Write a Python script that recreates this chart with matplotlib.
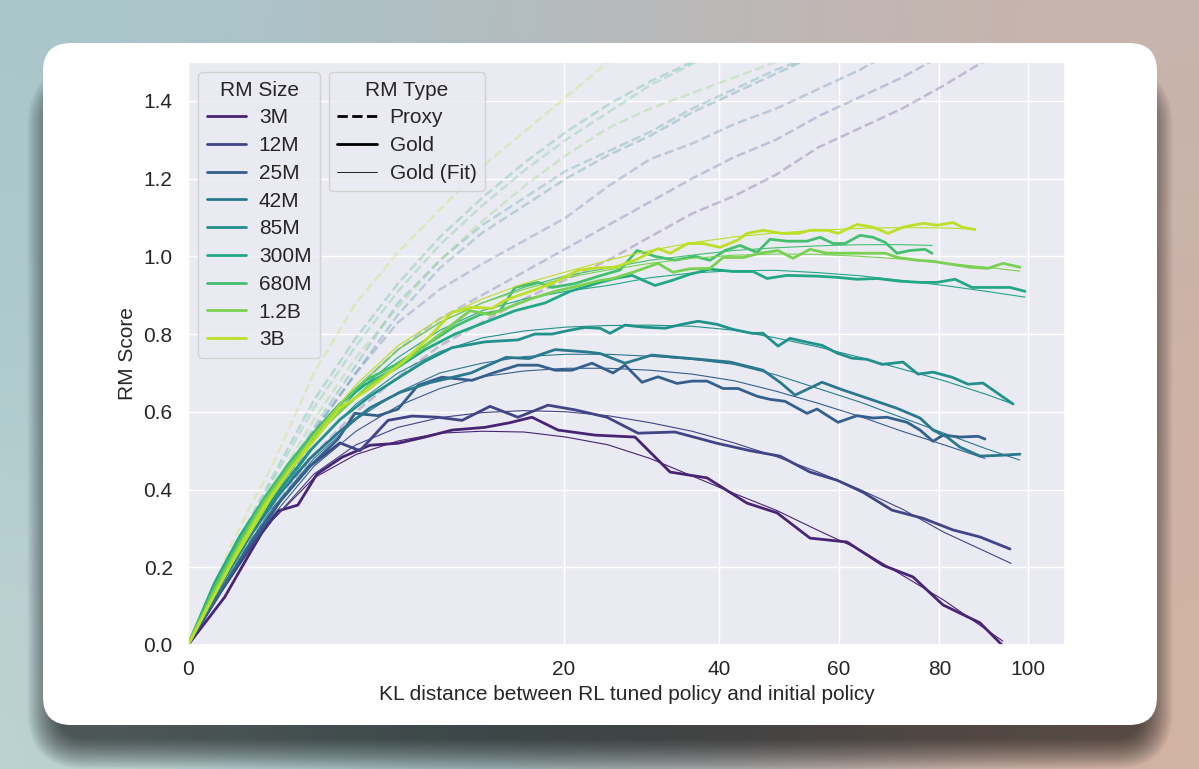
import numpy as np
import matplotlib
matplotlib.use("Agg")
import matplotlib.pyplot as plt
import seaborn as sns
from matplotlib.lines import Line2D
from matplotlib.patches import FancyBboxPatch
from matplotlib.transforms import IdentityTransform

rm_sizes = ["3M", "12M", "25M", "42M", "85M", "300M", "680M", "1.2B", "3B"]

# common KL grid used by the smooth curves (proxy and fitted gold)
kl_grid = [0, 0.0625, 0.25, 0.5625, 1, 2.25, 4, 6.25, 9, 12.25, 16, 20.25, 25,
           30.25, 36, 42.25, 49, 56.25, 64, 72.25, 81, 90.25, 100]

# proxy RM score (runs off the top of the plot)
proxy = [
    [0, 0.09, 0.19, 0.27, 0.35, 0.49, 0.60, 0.69, 0.77, 0.83, 0.89, 0.94, 0.99, 1.05, 1.11, 1.155, 1.21, 1.28, 1.33, 1.38, 1.44, 1.505, 1.56],
    [0, 0.10, 0.20, 0.28, 0.37, 0.53, 0.66, 0.76, 0.84, 0.90, 0.96, 1.02, 1.08, 1.14, 1.20, 1.255, 1.30, 1.36, 1.41, 1.46, 1.52],
    [0, 0.10, 0.20, 0.29, 0.38, 0.55, 0.70, 0.83, 0.915, 0.98, 1.04, 1.10, 1.18, 1.25, 1.29, 1.34, 1.38, 1.43, 1.48, 1.54],
    [0, 0.10, 0.20, 0.29, 0.38, 0.55, 0.70, 0.85, 0.97, 1.06, 1.13, 1.20, 1.26, 1.31, 1.37, 1.42, 1.47, 1.52],
    [0, 0.10, 0.21, 0.30, 0.39, 0.56, 0.72, 0.88, 0.99, 1.08, 1.15, 1.22, 1.27, 1.32, 1.38, 1.43, 1.48, 1.52],
    [0, 0.11, 0.23, 0.33, 0.43, 0.63, 0.79, 0.93, 1.05, 1.15, 1.24, 1.32, 1.39, 1.45, 1.50, 1.55],
    [0, 0.11, 0.22, 0.32, 0.42, 0.61, 0.77, 0.91, 1.03, 1.13, 1.22, 1.30, 1.37, 1.44, 1.495, 1.55],
    [0, 0.11, 0.22, 0.31, 0.40, 0.58, 0.74, 0.87, 0.99, 1.09, 1.18, 1.26, 1.33, 1.38, 1.42, 1.46, 1.50, 1.54],
    [0, 0.12, 0.25, 0.36, 0.46, 0.70, 0.88, 1.01, 1.12, 1.23, 1.32, 1.41, 1.50, 1.58],
]

# fitted gold score on kl_grid, last value sits at fit_end_kl
fit = [
    [0, 0.09, 0.17, 0.25, 0.32, 0.43, 0.49, 0.525, 0.545, 0.55, 0.548, 0.535, 0.515, 0.48, 0.435, 0.39, 0.347, 0.295, 0.245, 0.18, 0.115, 0.04, 0.01],
    [0, 0.09, 0.17, 0.25, 0.32, 0.44, 0.515, 0.56, 0.585, 0.598, 0.603, 0.60, 0.59, 0.572, 0.55, 0.52, 0.485, 0.445, 0.40, 0.35, 0.29, 0.24, 0.21],
    [0, 0.09, 0.18, 0.26, 0.33, 0.46, 0.55, 0.615, 0.66, 0.69, 0.705, 0.712, 0.712, 0.707, 0.697, 0.68, 0.653, 0.622, 0.588, 0.55, 0.515, 0.48],
    [0, 0.09, 0.18, 0.27, 0.35, 0.48, 0.58, 0.65, 0.70, 0.725, 0.742, 0.748, 0.748, 0.743, 0.735, 0.722, 0.695, 0.66, 0.625, 0.585, 0.545, 0.505, 0.476],
    [0, 0.10, 0.19, 0.28, 0.36, 0.51, 0.62, 0.70, 0.755, 0.79, 0.808, 0.818, 0.822, 0.823, 0.82, 0.81, 0.79, 0.767, 0.74, 0.71, 0.68, 0.645, 0.62],
    [0, 0.10, 0.20, 0.29, 0.38, 0.53, 0.65, 0.74, 0.81, 0.86, 0.89, 0.91, 0.925, 0.945, 0.957, 0.963, 0.964, 0.958, 0.95, 0.938, 0.925, 0.91, 0.895],
    [0, 0.10, 0.20, 0.29, 0.38, 0.54, 0.66, 0.76, 0.83, 0.88, 0.92, 0.95, 0.97, 0.99, 1.003, 1.015, 1.022, 1.027, 1.03, 1.03, 1.028],
    [0, 0.10, 0.20, 0.29, 0.38, 0.54, 0.66, 0.76, 0.83, 0.88, 0.915, 0.945, 0.965, 0.982, 0.995, 1.003, 1.006, 1.005, 1.0, 0.993, 0.983, 0.972, 0.962],
    [0, 0.10, 0.20, 0.29, 0.38, 0.54, 0.67, 0.77, 0.84, 0.89, 0.93, 0.96, 0.99, 1.015, 1.035, 1.05, 1.06, 1.067, 1.072, 1.074, 1.073, 1.07],
]
fit_end_kl = [94.1, 96.0, 90.0, 98.0, 96.5, 99.3, 78.5, 98.0, 87.8]

# gold RM score measured along training
gold_kl = [
    [0, 0.19, 0.48, 0.78, 1.15, 1.71, 2.36, 3.36, 4.69, 6.25, 7.96, 9.88, 12.50, 14.69, 16.77, 19.40, 23.48, 28.32, 32.93, 38.18, 44.29, 49.17, 54.83, 61.55, 68.46, 74.50, 80.79, 88.90, 93.90],
    [0, 0.16, 0.54, 1.20, 2.11, 3.27, 4.19, 5.67, 7.11, 8.86, 10.64, 12.93, 15.43, 18.37, 21.23, 24.88, 28.70, 33.61, 39.66, 44.76, 49.67, 54.83, 59.70, 64.57, 70.24, 76.56, 82.94, 88.90, 95.76],
    [0, 0.15, 0.54, 1.20, 2.11, 3.19, 3.95, 5.12, 6.25, 7.50, 9.14, 11.43, 13.10, 15.43, 17.36, 19.09, 20.90, 23.13, 25.60, 27.06, 29.21, 31.31, 33.89, 36.00, 38.18, 40.57, 42.87, 45.89, 48.01, 50.51, 54.30, 56.07, 59.88, 63.43, 66.50, 69.24, 73.27, 75.94, 78.66, 80.79, 84.46, 88.45, 90.02],
    [0, 0.16, 0.54, 1.20, 2.11, 3.27, 4.69, 6.37, 8.30, 11.35, 14.33, 16.48, 19.09, 22.56, 24.06, 27.06, 30.51, 33.89, 37.15, 41.63, 46.86, 49.67, 52.22, 56.97, 60.81, 66.50, 71.24, 75.94, 78.66, 81.65, 84.46, 88.90, 93.44, 98.10],
    [0, 0.16, 0.54, 1.20, 2.11, 3.27, 4.69, 6.37, 7.96, 9.88, 12.50, 15.43, 17.06, 18.78, 20.68, 22.34, 24.06, 25.24, 27.06, 29.34, 32.25, 34.59, 36.86, 39.66, 42.10, 45.08, 46.86, 49.34, 51.36, 54.30, 56.97, 59.70, 62.49, 65.34, 68.26, 72.45, 75.52, 78.66, 82.72, 86.23, 89.57, 96.46],
    [0, 0.10, 0.38, 0.84, 1.47, 2.29, 3.27, 4.44, 6.07, 7.96, 10.10, 12.50, 15.15, 18.06, 20.68, 24.06, 25.84, 27.94, 30.91, 33.20, 35.71, 38.62, 42.10, 45.24, 47.51, 50.85, 56.07, 59.70, 63.43, 67.28, 71.84, 75.94, 79.51, 83.37, 87.11, 91.16, 95.76, 99.28],
    [0, 0.10, 0.38, 0.84, 1.47, 2.29, 3.27, 4.44, 6.07, 7.96, 10.10, 12.08, 13.80, 15.15, 17.36, 18.78, 21.23, 24.06, 26.45, 28.57, 30.91, 33.61, 36.43, 38.62, 40.87, 43.18, 45.89, 48.01, 50.85, 54.30, 56.61, 58.96, 61.17, 64.00, 66.50, 68.86, 71.24, 73.88, 76.98, 78.45],
    [0, 0.10, 0.38, 0.84, 1.47, 2.29, 3.27, 4.69, 6.37, 8.30, 10.10, 11.27, 12.93, 14.69, 16.58, 19.09, 21.78, 24.06, 25.60, 28.07, 31.31, 33.33, 35.71, 38.62, 40.57, 43.65, 46.37, 49.34, 51.87, 54.83, 57.87, 61.55, 65.34, 68.86, 71.44, 75.32, 78.66, 82.94, 86.67, 90.70, 94.13, 98.10],
    [0, 0.10, 0.38, 0.84, 1.47, 2.29, 3.27, 4.69, 6.67, 8.44, 9.88, 11.43, 13.10, 14.24, 16.10, 18.78, 21.56, 23.48, 25.84, 28.32, 31.31, 32.93, 35.43, 37.59, 40.11, 42.72, 44.29, 46.86, 50.00, 52.74, 54.83, 57.87, 59.88, 63.43, 66.50, 69.44, 72.45, 76.56, 79.51, 82.94, 84.90, 87.78],
]
gold_score = [
    [0, 0.123, 0.22, 0.29, 0.345, 0.36, 0.44, 0.483, 0.514, 0.519, 0.535, 0.553, 0.56, 0.572, 0.586, 0.553, 0.54, 0.535, 0.445, 0.43, 0.365, 0.34, 0.275, 0.265, 0.205, 0.175, 0.103, 0.057, 0.0],
    [0, 0.14, 0.25, 0.37, 0.46, 0.52, 0.50, 0.578, 0.589, 0.586, 0.578, 0.614, 0.586, 0.617, 0.605, 0.586, 0.545, 0.548, 0.519, 0.50, 0.486, 0.445, 0.424, 0.393, 0.347, 0.326, 0.296, 0.278, 0.247],
    [0, 0.14, 0.26, 0.37, 0.46, 0.53, 0.596, 0.59, 0.607, 0.668, 0.689, 0.681, 0.699, 0.72, 0.72, 0.707, 0.707, 0.725, 0.70, 0.72, 0.676, 0.69, 0.673, 0.679, 0.679, 0.66, 0.66, 0.64, 0.632, 0.627, 0.596, 0.607, 0.573, 0.59, 0.584, 0.586, 0.573, 0.553, 0.524, 0.54, 0.535, 0.537, 0.53],
    [0, 0.16, 0.28, 0.39, 0.48, 0.55, 0.61, 0.65, 0.675, 0.70, 0.74, 0.737, 0.76, 0.754, 0.75, 0.725, 0.746, 0.74, 0.735, 0.728, 0.707, 0.676, 0.643, 0.676, 0.656, 0.63, 0.609, 0.584, 0.553, 0.535, 0.509, 0.486, 0.488, 0.491],
    [0, 0.17, 0.29, 0.40, 0.50, 0.58, 0.64, 0.69, 0.73, 0.765, 0.78, 0.785, 0.80, 0.80, 0.81, 0.817, 0.815, 0.802, 0.823, 0.818, 0.815, 0.825, 0.833, 0.825, 0.812, 0.802, 0.802, 0.769, 0.789, 0.779, 0.771, 0.751, 0.738, 0.735, 0.722, 0.728, 0.697, 0.702, 0.689, 0.671, 0.674, 0.62],
    [0, 0.16, 0.28, 0.38, 0.47, 0.55, 0.62, 0.67, 0.71, 0.76, 0.80, 0.83, 0.86, 0.88, 0.91, 0.933, 0.943, 0.951, 0.925, 0.938, 0.954, 0.967, 0.961, 0.961, 0.943, 0.951, 0.949, 0.946, 0.941, 0.943, 0.936, 0.933, 0.933, 0.941, 0.92, 0.92, 0.92, 0.91],
    [0, 0.15, 0.27, 0.38, 0.47, 0.55, 0.62, 0.68, 0.72, 0.77, 0.82, 0.85, 0.86, 0.92, 0.933, 0.92, 0.93, 0.95, 0.965, 1.015, 1.0, 0.99, 1.0, 0.99, 1.015, 1.028, 1.01, 1.044, 1.039, 1.039, 1.049, 1.033, 1.033, 1.054, 1.049, 1.036, 1.008, 1.015, 1.018, 1.008],
    [0, 0.14, 0.26, 0.37, 0.46, 0.54, 0.60, 0.67, 0.72, 0.78, 0.83, 0.86, 0.85, 0.87, 0.89, 0.91, 0.925, 0.938, 0.943, 0.959, 0.982, 0.959, 0.968, 0.969, 0.997, 0.997, 1.008, 1.015, 0.995, 1.018, 1.008, 1.008, 1.008, 1.008, 0.997, 0.99, 0.987, 0.979, 0.972, 0.969, 0.982, 0.972],
    [0, 0.13, 0.25, 0.36, 0.45, 0.53, 0.61, 0.66, 0.733, 0.80, 0.856, 0.869, 0.866, 0.887, 0.905, 0.93, 0.964, 0.97, 0.972, 0.99, 1.02, 1.008, 1.033, 1.033, 1.023, 1.041, 1.059, 1.067, 1.059, 1.059, 1.067, 1.067, 1.059, 1.082, 1.075, 1.059, 1.075, 1.085, 1.08, 1.087, 1.075, 1.069],
]

x_ticks = [0, 20, 40, 60, 80, 100]
y_ticks = [0.0, 0.2, 0.4, 0.6, 0.8, 1.0, 1.2, 1.4]

sns.set_theme(style="darkgrid")
plt.rcParams["font.family"] = ["Liberation Sans", "DejaVu Sans"]
FS = 15

W, H = 1199, 769
fig = plt.figure(figsize=(W / 100, H / 100), dpi=100)

# gradient backdrop
bg = fig.add_axes([0, 0, 1, 1], zorder=-3)
grad = np.array([
    [[170, 199, 204], [176, 190, 194], [190, 184, 184], [200, 180, 172]],
    [[176, 204, 206], [160, 180, 184], [178, 172, 172], [208, 178, 164]],
    [[190, 212, 212], [140, 168, 172], [160, 158, 160], [212, 180, 164]],
]) / 255.0
bg.imshow(grad, aspect="auto", extent=[0, 1, 0, 1], interpolation="bicubic")
bg.axis("off")

# white card with soft shadow mostly below it, in pixel coordinates
cx, cy, cw, ch, r = 43, 44, 1114, 682, 28
for k in range(22):
    pad = k * 1.4
    sh = FancyBboxPatch((cx + 14 - pad, cy - 14 - pad), cw - 28 + 2 * pad, ch - 40 + 2 * pad,
                        boxstyle=f"round,pad=0,rounding_size={r + pad}",
                        transform=IdentityTransform(), facecolor="black",
                        edgecolor="none", alpha=0.035, zorder=-2)
    fig.add_artist(sh)
card = FancyBboxPatch((cx, cy), cw, ch, boxstyle=f"round,pad=0,rounding_size={r}",
                      transform=IdentityTransform(), facecolor="white",
                      edgecolor="none", zorder=-1)
fig.add_artist(card)

ax = fig.add_axes([188 / W, 1 - 645 / H, 877 / W, 583 / H])
ax.set_xscale("function", functions=(lambda v: np.sqrt(np.clip(v, 0, None)), lambda v: np.square(v)))

colors = sns.color_palette("viridis", len(rm_sizes))
for i, size in enumerate(rm_sizes):
    ax.plot(kl_grid[:len(proxy[i])], proxy[i], ls="--", color=colors[i], lw=1.8, alpha=0.25)
for i, size in enumerate(rm_sizes):
    c = colors[i]
    ax.plot(gold_kl[i], gold_score[i], color=c, lw=2.0)
    fx = kl_grid[:len(fit[i]) - 1] + [fit_end_kl[i]]
    ax.plot(fx, fit[i], color=c, lw=0.8)

ax.set_xlim(0, 109)
ax.set_ylim(0, 1.5)
ax.set_xticks(x_ticks)
ax.set_yticks(y_ticks)
ax.set_yticklabels([f"{v:.1f}" for v in y_ticks])
ax.tick_params(labelsize=FS, pad=5)
ax.set_xlabel("KL distance between RL tuned policy and initial policy", fontsize=FS, labelpad=4)
ax.set_ylabel("RM Score", fontsize=FS, labelpad=5)

size_handles = [Line2D([], [], color=colors[i], lw=2) for i in range(len(rm_sizes))]
leg1 = ax.legend(size_handles, rm_sizes, title="RM Size", loc="upper left",
                 fontsize=FS, title_fontsize=FS, handlelength=1.9, handletextpad=0.6,
                 labelspacing=0.42, borderaxespad=0.5)
ax.add_artist(leg1)
type_handles = [Line2D([], [], color="black", ls="--", lw=2),
                Line2D([], [], color="black", lw=2),
                Line2D([], [], color="black", lw=0.6)]
ax.legend(type_handles, ["Proxy", "Gold", "Gold (Fit)"], title="RM Type",
          loc="upper left", bbox_to_anchor=(0.149, 1.0), labelspacing=0.42,
          fontsize=FS, title_fontsize=FS, handlelength=1.9, handletextpad=0.6)

fig.savefig("out.png", dpi=100)
